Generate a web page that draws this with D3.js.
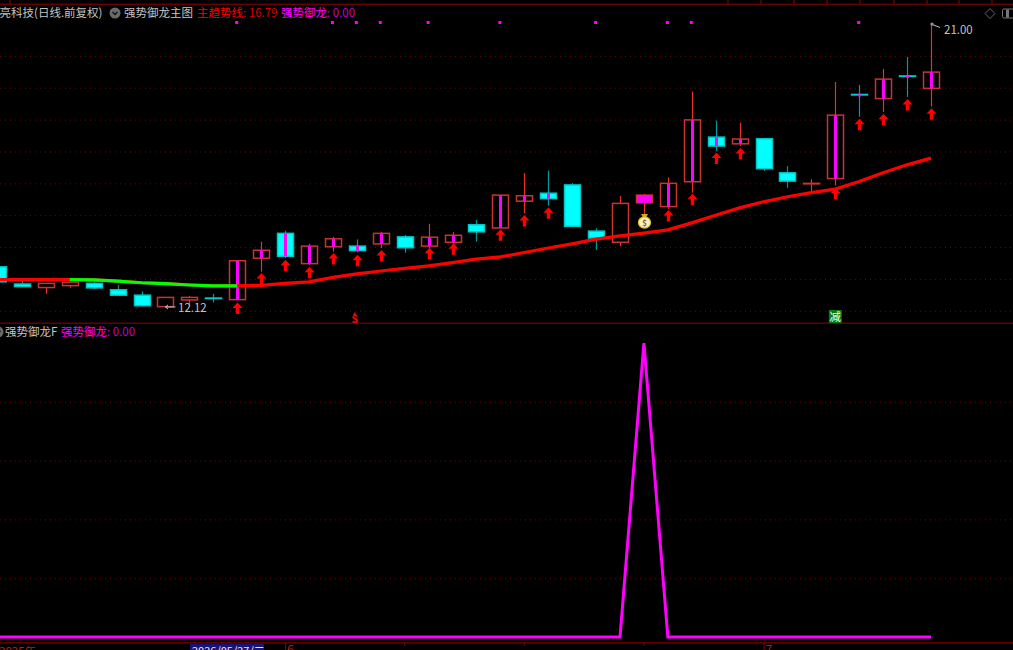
<!DOCTYPE html>
<html>
<head>
<meta charset="utf-8" />
<script src="https://cdn.jsdelivr.net/npm/d3@7"></script>
<style>
  html, body { margin: 0; padding: 0; background: #000; overflow: hidden; }
  svg { display: block; }
  text { font-family: "Noto Sans CJK SC", "Noto Sans", sans-serif; }
</style>
</head>
<body>
<svg id="chart"></svg>
<script>
// one entry per trading day, oldest first
const opens = [13.38, 12.84, 12.73, 12.79, 12.86, 12.66, 12.49, 12.13, 12.34, 12.40,
  12.35, 13.65, 14.43, 13.48, 14.01, 14.03, 14.10, 14.32, 14.03, 14.15,
  14.70, 14.60, 15.44, 15.69, 15.95, 14.50, 14.15, 15.39, 15.27, 16.05,
  17.45, 17.24, 17.40, 16.33, 16.00, 16.15, 18.79, 18.66, 19.37, 18.98];
const highs = [13.38, 12.94, 12.86, 12.90, 12.91, 12.81, 12.61, 12.42, 12.47, 12.53,
  13.57, 14.17, 14.51, 14.10, 14.32, 14.24, 14.47, 14.38, 14.73, 14.47,
  14.85, 15.63, 16.32, 16.40, 16.01, 14.59, 15.60, 15.67, 16.19, 18.88,
  17.97, 17.90, 17.40, 16.54, 16.13, 19.18, 19.09, 19.59, 19.97, 21.00];
const lows = [12.91, 12.75, 12.53, 12.72, 12.69, 12.49, 12.16, 12.12, 12.15, 12.26,
  12.35, 13.23, 13.66, 13.44, 13.86, 13.84, 13.97, 13.82, 13.93, 14.06,
  14.17, 14.60, 15.06, 15.30, 14.63, 13.91, 14.03, 15.04, 15.20, 15.71,
  17.02, 17.17, 16.39, 15.86, 15.74, 15.93, 18.09, 18.24, 18.71, 18.41];
const closes = [12.91, 12.76, 12.86, 12.90, 12.72, 12.49, 12.16, 12.42, 12.42, 12.40,
  13.57, 13.90, 13.71, 14.03, 14.26, 13.89, 14.43, 13.98, 14.31, 14.37,
  14.48, 15.63, 15.61, 15.52, 14.65, 14.28, 15.37, 15.63, 16.00, 17.99,
  17.17, 17.39, 16.46, 16.07, 16.00, 18.14, 18.79, 19.27, 19.37, 19.49];
const trend = [12.98, 12.98, 12.98, 12.98, 12.97, 12.93, 12.88, 12.85, 12.81, 12.78,
  12.78, 12.80, 12.86, 12.91, 13.05, 13.16, 13.25, 13.33, 13.41, 13.51,
  13.62, 13.69, 13.83, 13.97, 14.10, 14.25, 14.35, 14.44, 14.54, 14.76,
  15.00, 15.23, 15.42, 15.58, 15.71, 15.82, 16.06, 16.33, 16.58, 16.79];
const strength = [0, 0, 0, 0, 0, 0, 0, 0, 0, 0,
  0, 0, 0, 0, 0, 0, 0, 0, 0, 0,
  0, 0, 0, 0, 0, 0, 0, 100, 0, 0,
  0, 0, 0, 0, 0, 0, 0, 0, 0, 0];

// signal days: day index and the price level of the arrow tip
const arrowDays = [10, 11, 12, 13, 14, 15, 16, 18, 19, 21, 22, 23, 28, 29, 30, 31, 35, 36, 37, 38, 39];
const arrowTips = [12.26, 13.19, 13.6, 13.38, 13.81, 13.76, 13.91, 13.98, 14.12, 14.56, 15.01,
  15.25, 15.16, 15.67, 16.97, 17.11, 15.86, 18.03, 18.18, 18.65, 18.36];
const dotDays = [10, 14, 15, 16, 18, 21, 25, 28, 29, 36];
const greenDays = [3, 4, 5, 6, 7, 8, 9];

const priceTicks = [12, 13, 14, 15, 16, 17, 18, 19, 20];
const strengthTicks = [20, 40, 60, 80];
const monthDays = [12, 32];
const monthNames = ["6", "7"];
const minorDays = [17, 22, 27];
const sellDay = 15;
const bagDay = 27;
const reduceDay = 35;
const topTicks = [10, 728, 761, 794, 827, 860, 894, 927, 959, 992];

const width = 1013;
const height = 650;
const RED = "#ff0000";
const GREEN = "#00ff00";
const CYAN = "#00ffff";
const MAGENTA = "#ff00ff";
const DARK = "#640000";
const GREY = "#c4c4c4";

const svg = d3.select("#chart").attr("width", width).attr("height", height);

const x = d3.scaleLinear().domain([0, 39]).range([-2, 931]);
const y = d3.scaleLinear().domain([12, 21]).range([310.8, 24]);
const y2 = d3.scaleLinear().domain([0, 100]).range([637, 343]);

// keep the thin candle lines on whole pixels
const cx = (i) => Math.round(x(i)) + 0.5;

// dotted grid lines of both panes
function drawGrid(scale, ticks) {
  const g = svg
    .append("g")
    .call(d3.axisRight(scale).tickValues(ticks).tickSize(width).tickFormat(""));
  g.select(".domain").remove();
  g.selectAll("line").attr("stroke", "#7a0000").attr("stroke-dasharray", "1 4");
}
drawGrid(y, priceTicks);
drawGrid(y2, strengthTicks);

// frame lines
svg.append("rect").attr("x", 0).attr("y", 3.5).attr("width", width).attr("height", 1.5).attr("fill", DARK);
svg.append("rect").attr("x", 0).attr("y", 322.5).attr("width", width).attr("height", 1.5).attr("fill", DARK);
svg.append("rect").attr("x", 0).attr("y", 642).attr("width", width).attr("height", 1.5).attr("fill", DARK);
svg
  .selectAll(".top-tick")
  .data(topTicks)
  .enter()
  .append("line")
  .attr("x1", (d) => d)
  .attr("x2", (d) => d)
  .attr("y1", 0)
  .attr("y2", 4)
  .attr("stroke", DARK)
  .attr("stroke-width", 1.5);

// candles
const days = d3.range(opens.length);
const isUp = (i) => closes[i] > opens[i] || (closes[i] === opens[i] && i === 34);

const wicks = svg.append("g");
days.forEach((i) => {
  wicks
    .append("line")
    .attr("x1", cx(i))
    .attr("x2", cx(i))
    .attr("y1", y(highs[i]))
    .attr("y2", y(lows[i]))
    .attr("stroke", isUp(i) ? "#e83030" : "#009a9a")
    .attr("stroke-width", 1.2);
});

svg
  .append("g")
  .selectAll("rect")
  .data(days)
  .enter()
  .append("rect")
  .attr("x", (i) => cx(i) - 8)
  .attr("width", 16)
  .attr("y", (i) => y(Math.max(opens[i], closes[i])))
  .attr("height", (i) => Math.max(0.5, Math.abs(y(opens[i]) - y(closes[i]))))
  .attr("fill", (i) => (isUp(i) ? "#000" : CYAN))
  .attr("stroke", (i) => (isUp(i) ? "#c83434" : "#00c8c8"))
  .attr("stroke-width", 1.5);

// signal bars inside the candle body
svg
  .append("g")
  .selectAll("rect")
  .data(arrowDays.concat([bagDay]))
  .enter()
  .append("rect")
  .attr("x", (i) => (i === bagDay ? cx(i) - 7.5 : cx(i) - 1.5))
  .attr("width", (i) => (i === bagDay ? 15 : 3))
  .attr("y", (i) => y(Math.max(opens[i], closes[i])))
  .attr("height", (i) => Math.max(2, Math.abs(y(opens[i]) - y(closes[i]))))
  .attr("fill", MAGENTA);

// trend line, green while falling
const trendLine = d3
  .line()
  .x((i) => x(i))
  .y((i) => y(trend[i]));

svg
  .append("path")
  .attr("d", trendLine(days))
  .attr("fill", "none")
  .attr("stroke", RED)
  .attr("stroke-width", 3.2);
svg
  .append("path")
  .attr("d", trendLine(greenDays.concat([10])))
  .attr("fill", "none")
  .attr("stroke", GREEN)
  .attr("stroke-width", 3.2);

// up arrows under the signal days
svg
  .append("g")
  .selectAll("path")
  .data(arrowDays)
  .enter()
  .append("path")
  .attr("transform", (d, k) => `translate(${cx(d)},${y(arrowTips[k])})`)
  .attr("d", "M0,0L5,5.5L1.7,5.5L1.7,11.5L-1.7,11.5L-1.7,5.5L-5,5.5Z")
  .attr("fill", RED);

// small magenta marks along the top
svg
  .append("g")
  .selectAll("rect")
  .data(dotDays)
  .enter()
  .append("rect")
  .attr("x", (d) => x(d) - 2)
  .attr("y", 21)
  .attr("width", 3)
  .attr("height", 3)
  .attr("fill", MAGENTA);

// money bag under the strong day
const bag = svg.append("g").attr("transform", `translate(${cx(bagDay)},221)`);
bag.append("path").attr("d", "M-3.5,-7L3.5,-7L1.5,-3.5L-1.5,-3.5Z").attr("fill", "#d8a820");
bag
  .append("ellipse")
  .attr("cy", 1.5)
  .attr("rx", 6)
  .attr("ry", 5.6)
  .attr("fill", "#f8f0c8")
  .attr("stroke", "#e8c020")
  .attr("stroke-width", 1.2);
bag
  .append("text")
  .attr("y", 4.5)
  .attr("text-anchor", "middle")
  .attr("font-size", 8)
  .attr("font-weight", 700)
  .attr("fill", "#8a5a10")
  .text("$");

// sell marker and reduce box on the pane floor
svg
  .append("path")
  .attr("d", `M${x(sellDay) - 4},315.5L${x(sellDay)},315.5L${x(sellDay) - 2},312Z`)
  .attr("fill", RED);
svg
  .append("text")
  .attr("x", x(sellDay) - 2)
  .attr("y", 323)
  .attr("text-anchor", "middle")
  .attr("font-size", 10.5)
  .attr("font-weight", 700)
  .attr("font-family", '"DejaVu Sans"')
  .attr("fill", RED)
  .text("S");
svg
  .append("rect")
  .attr("x", x(reduceDay) - 6.5)
  .attr("y", 310)
  .attr("width", 13)
  .attr("height", 13)
  .attr("fill", "#0a7a0a");
svg
  .append("text")
  .attr("x", x(reduceDay))
  .attr("y", 321)
  .attr("text-anchor", "middle")
  .attr("font-size", 11.5)
  .attr("fill", "#e8ffe8")
  .text("减");

// high and low labels
const highDay = 39;
const lowDay = 7;
svg
  .append("path")
  .attr("d", `M${x(highDay)},${y(21)}l9,3.5`)
  .attr("stroke", GREY)
  .attr("fill", "none");
svg
  .append("circle")
  .attr("cx", x(highDay) + 1)
  .attr("cy", y(21))
  .attr("r", 1.6)
  .attr("fill", "#999");
svg
  .append("text")
  .attr("x", 944)
  .attr("y", y(21) + 9.5)
  .attr("font-size", 11.5)
  .attr("fill", GREY)
  .text("21.00");
svg
  .append("path")
  .attr("d", `M${x(lowDay) + 10},${y(12.12)}h-10m2.5,-2l-2.5,2l2.5,2`)
  .attr("stroke", GREY)
  .attr("fill", "none");
svg
  .append("text")
  .attr("x", 178)
  .attr("y", y(12.12) + 5.5)
  .attr("font-size", 11.5)
  .attr("fill", GREY)
  .text("12.12");

// lower pane line
const strengthLine = d3
  .line()
  .x((i) => x(i))
  .y((i) => y2(strength[i]));

svg
  .append("path")
  .attr("d", strengthLine(days))
  .attr("fill", "none")
  .attr("stroke", MAGENTA)
  .attr("stroke-width", 3);

// header texts
function label(px, py, text, color) {
  return svg
    .append("text")
    .attr("x", px)
    .attr("y", py)
    .attr("font-size", 11.5)
    .attr("fill", color)
    .text(text);
}

function chevron(cxPos, cy) {
  svg.append("circle").attr("cx", cxPos).attr("cy", cy).attr("r", 5.5).attr("fill", "#6a6a6a");
  svg
    .append("path")
    .attr("d", `M${cxPos - 2.5},${cy - 1}L${cxPos},${cy + 1.5}L${cxPos + 2.5},${cy - 1}`)
    .attr("stroke", "#111")
    .attr("stroke-width", 1.3)
    .attr("fill", "none");
}

label(-12, 17, "长亮科技(日线.前复权)", GREY);
chevron(115, 13);
label(124, 17, "强势御龙主图", GREY);
label(197, 17, "主趋势线", RED);
label(243, 17, ": 16.79", "#d00000");
label(281, 17, "强势御龙", MAGENTA);
label(327, 17, ": 0.00", "#c800c8");

chevron(-2, 332);
label(5, 336, "强势御龙F", GREY);
label(61, 336, "强势御龙", MAGENTA);
label(107, 336, ": 0.00", "#c800c8");

// window buttons at top right
svg
  .append("path")
  .attr("d", "M990,8.5L995,13.5L990,18.5L985,13.5Z")
  .attr("fill", "none")
  .attr("stroke", "#666");
svg
  .append("rect")
  .attr("x", 1002.5)
  .attr("y", 9)
  .attr("width", 12)
  .attr("height", 9)
  .attr("rx", 1.5)
  .attr("fill", "none")
  .attr("stroke", "#777");
svg.append("rect").attr("x", 1006).attr("y", 9.5).attr("width", 3).attr("height", 8).attr("fill", "#777");

// time axis, the labels run off the bottom of the window
const xAxis = svg
  .append("g")
  .attr("transform", "translate(0,643)")
  .call(
    d3
      .axisBottom(x)
      .tickValues(monthDays)
      .tickSize(7)
      .tickPadding(2)
      .tickFormat((d, k) => monthNames[k])
  );
xAxis.select(".domain").remove();
xAxis.selectAll("line").attr("stroke", "#8a0000");
xAxis
  .selectAll("text")
  .attr("x", 5)
  .attr("y", 3)
  .attr("font-size", 11.5)
  .attr("font-family", '"Noto Sans CJK SC"')
  .attr("fill", "#b02020");

svg
  .selectAll(".minor-tick")
  .data(minorDays)
  .enter()
  .append("line")
  .attr("x1", (d) => x(d))
  .attr("x2", (d) => x(d))
  .attr("y1", 643)
  .attr("y2", 646)
  .attr("stroke", "#8a0000");

label(-1, 656, "2025年", "#b02020");
svg.append("rect").attr("x", 190).attr("y", 644).attr("width", 74).attr("height", 6).attr("fill", "#14147a");
label(192, 654.5, "2026/05/27/二", "#e8e8e8").attr("font-size", 11);
</script>
</body>
</html>
